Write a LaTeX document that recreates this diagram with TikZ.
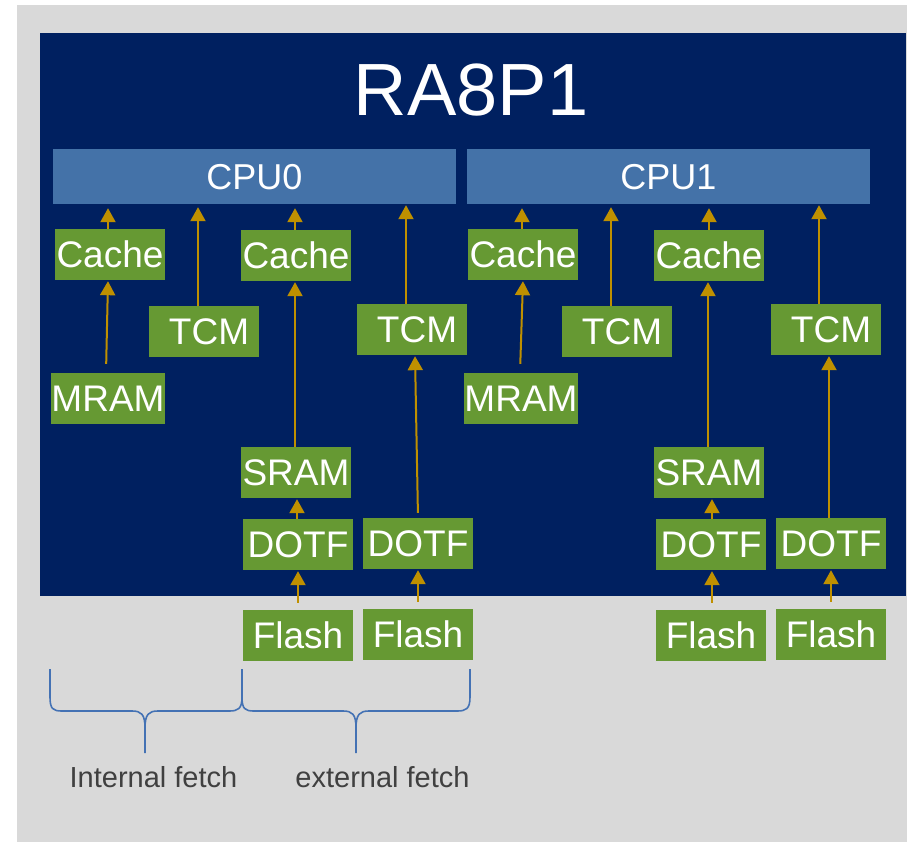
\documentclass[tikz,border=0pt]{standalone}
\usepackage{fontspec}
\setmainfont{Liberation Sans}
\usetikzlibrary{arrows.meta}
\definecolor{bggray}{RGB}{217,217,217}
\definecolor{navy}{RGB}{0,32,96}
\definecolor{cpublue}{RGB}{68,114,168}
\definecolor{boxgreen}{RGB}{102,153,51}
\definecolor{gold}{RGB}{191,144,0}
\definecolor{bracecol}{RGB}{68,114,180}
\definecolor{labgray}{RGB}{64,64,64}
\begin{document}
\begin{tikzpicture}[x=1pt,y=-1pt,
  cpubox/.style={fill=cpublue, text=white, minimum width=403pt, minimum height=55pt, inner sep=0pt,
    font=\fontsize{36}{40}\selectfont, text height=25.8pt, text depth=0pt},
  gbox/.style={fill=boxgreen, text=white, minimum width=110pt, minimum height=51pt, inner sep=0pt,
    font=\fontsize{37}{40}\selectfont, text height=26.5pt, text depth=0pt},
  arr/.style={draw=gold, line width=2pt, -{Triangle[width=15pt,length=14pt]}, shorten >=1pt},
  brace/.style={draw=bracecol, line width=1.6pt},
  lab/.style={text=labgray, font=\fontsize{29}{32}\selectfont, text height=20.8pt, text depth=0pt, inner sep=0pt}]
\useasboundingbox (0,0) rectangle (907,842);
\fill[white] (0,0) rectangle (907,842);
\fill[bggray] (17,5) rectangle (907,842);
\fill[navy] (40,33) rectangle (906,596);
\node[text=white, font=\fontsize{74}{80}\selectfont, text height=53pt, text depth=0pt, inner sep=0pt] (title) at (471,89) {RA8P1};
\node[cpubox] (cpu0) at (254.5,176.5) {CPU0};
\node[cpubox] (cpu1) at (668.5,176.5) {CPU1};
% CPU0 side
\node[gbox] (ca) at (110,254.5) {Cache};
\node[gbox] (ta) at (204,331.5) {\hspace*{10pt}TCM};
\node[gbox] (cb) at (296,255.5) {Cache};
\node[gbox] (tb) at (412,329.5) {\hspace*{10pt}TCM};
\node[gbox] (ma) at (108,398.5) {MRAM};
\node[gbox] (sa) at (296,472.5) {SRAM};
\node[gbox] (da) at (298,544.5) {DOTF};
\node[gbox] (db) at (418,543.5) {DOTF};
\node[gbox] (fa) at (298,635.5) {Flash};
\node[gbox] (fb) at (418,634.5) {Flash};
% CPU1 side
\node[gbox] (cc) at (523,254.5) {Cache};
\node[gbox] (tc) at (617,331.5) {\hspace*{10pt}TCM};
\node[gbox] (cd) at (709,255.5) {Cache};
\node[gbox] (td) at (826,329.5) {\hspace*{10pt}TCM};
\node[gbox] (mb) at (521,398.5) {MRAM};
\node[gbox] (sb) at (709,472.5) {SRAM};
\node[gbox] (dc) at (711,544.5) {DOTF};
\node[gbox] (dd) at (831,543.5) {DOTF};
\node[gbox] (fc) at (711,635.5) {Flash};
\node[gbox] (fd) at (831,634.5) {Flash};
% arrows CPU0
\draw[arr, shorten >=4pt] ([xshift=-2pt]ca.north) -- ([xshift=-2pt]ca.north |- cpu0.south);
\draw[arr, shorten <=9pt] ([xshift=-2pt]ma.north) -- ([xshift=-2pt]ca.south);
\draw[arr, shorten >=3pt] ([xshift=-6pt]ta.north) -- ([xshift=-6pt]ta.north |- cpu0.south);
\draw[arr, shorten >=4pt] ([xshift=-1pt]cb.north) -- ([xshift=-1pt]cb.north |- cpu0.south);
\draw[arr] ([xshift=-1pt]sa.north) -- ([xshift=-1pt]cb.south);
\draw[arr] ([xshift=-1pt]da.north) -- ([xshift=-1pt]da.north |- sa.south);
\draw[arr, shorten <=7pt] (fa.north) -- (da.south);
\draw[arr, shorten >=1pt] ([xshift=-6pt]tb.north) -- ([xshift=-6pt]tb.north |- cpu0.south);
\draw[arr, shorten <=5pt] (db.north) -- ([xshift=3pt]tb.south);
\draw[arr, shorten <=7pt] (fb.north) -- (db.south);
% arrows CPU1
\draw[arr, shorten >=4pt] ([xshift=-1pt]cc.north) -- ([xshift=-1pt]cc.north |- cpu1.south);
\draw[arr, shorten <=9pt] ([xshift=-1pt]mb.north) -- (cc.south);
\draw[arr, shorten >=3pt] ([xshift=-6pt]tc.north) -- ([xshift=-6pt]tc.north |- cpu1.south);
\draw[arr, shorten >=4pt] (cd.north) -- (cd.north |- cpu1.south);
\draw[arr] ([xshift=-1pt]sb.north) -- ([xshift=-1pt]cd.south);
\draw[arr] ([xshift=1pt]dc.north) -- ([xshift=1pt]dc.north |- sb.south);
\draw[arr, shorten <=7pt] ([xshift=1pt]fc.north) -- ([xshift=1pt]dc.south);
\draw[arr, shorten >=1pt] ([xshift=-7pt]td.north) -- ([xshift=-7pt]td.north |- cpu1.south);
\draw[arr] ([xshift=-2pt]dd.north) -- ([xshift=3pt]td.south);
\draw[arr, shorten <=7pt] (fd.north) -- (dd.south);
% braces
\draw[brace] (50,669) -- (50,697) .. controls (50,709) and (53,711) .. (62,711) -- (132,711)
  .. controls (141,711) and (145,714) .. (145,728) -- (145,753);
\draw[brace] (145,728) .. controls (145,714) and (149,711) .. (158,711) -- (229,711)
  .. controls (238,711) and (242,709) .. (242,697) -- (242,669);
\draw[brace] (242,669) -- (242,697) .. controls (242,709) and (245,711) .. (254,711) -- (343,711)
  .. controls (352,711) and (356,714) .. (356,728) -- (356,753);
\draw[brace] (356,728) .. controls (356,714) and (360,711) .. (369,711) -- (457,711)
  .. controls (466,711) and (470,709) .. (470,697) -- (470,669);
\node[lab] (lint) at (153.5,777.5) {Internal fetch};
\node[lab] (lext) at (382.5,777.5) {external fetch};
\end{tikzpicture}
\end{document}
